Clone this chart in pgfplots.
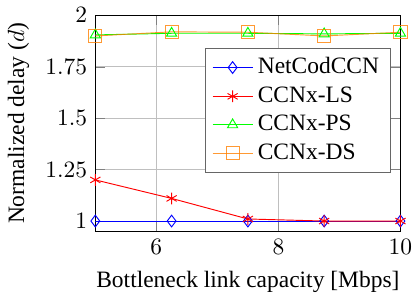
\documentclass[border=0pt]{standalone}
\usepackage{fontspec}
\setmainfont{Liberation Serif}
\usepackage{pgfplots}
\pgfplotsset{compat=1.18}
\begin{document}
\begin{tikzpicture}
\begin{axis}[
  scale only axis,
  width=130pt, height=92pt,
  xmin=5, xmax=10, ymin=0.95, ymax=2,
  xtick={6,8,10},
  ytick={1,1.25,1.5,1.75,2},
  yticklabels={$1$,$1.25$,$1.5$,$1.75$,$2$},
  grid=major,
  xlabel={Bottleneck link capacity [Mbps]},
  ylabel={Normalized delay ($d$)},
  legend style={at={(0.97,0.85)}, anchor=north east, draw=black!60, font=\normalsize},
  legend cell align=left,
]
\addplot[blue, mark=diamond, mark size=2.5pt] coordinates {(5,1) (6.25,1) (7.5,1) (8.75,1) (10,1)};
\addlegendentry{NetCodCCN}
\addplot[red, mark=asterisk, mark size=2.5pt] coordinates {(5,1.2) (6.25,1.11) (7.5,1.01) (8.75,1.0) (10,1.0)};
\addlegendentry{CCNx-LS}
\addplot[green, mark=triangle, mark size=2.5pt] coordinates {(5,1.905) (6.25,1.913) (7.5,1.913) (8.75,1.91) (10,1.913)};
\addlegendentry{CCNx-PS}
\addplot[orange, mark=square, mark size=2.8pt, mark options={fill=orange!15}, opacity=0.8] coordinates {(5,1.9) (6.25,1.92) (7.5,1.918) (8.75,1.9) (10,1.918)};
\addlegendentry{CCNx-DS}
\end{axis}
\end{tikzpicture}
\end{document}
